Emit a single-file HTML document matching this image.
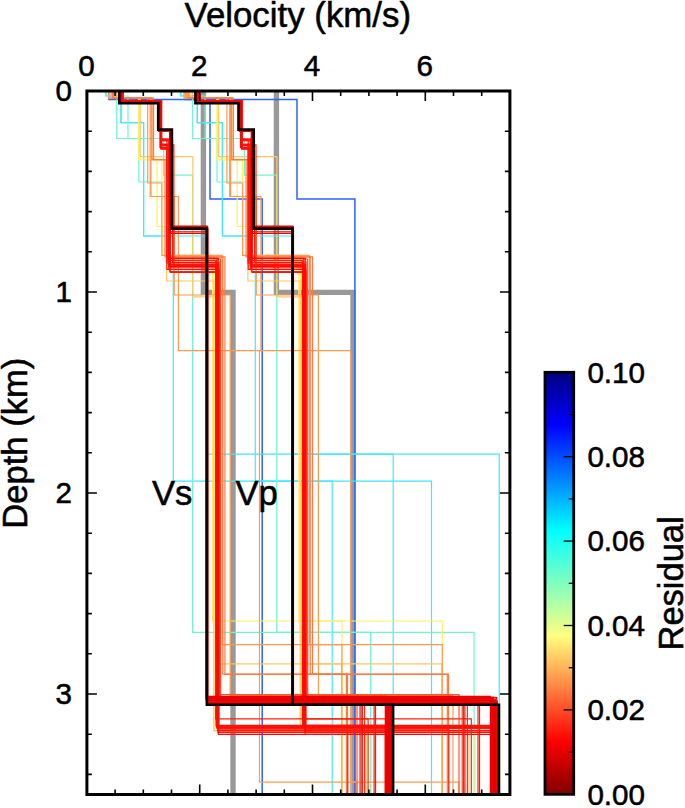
<!DOCTYPE html>
<html><head><meta charset="utf-8"><title>Velocity models</title>
<style>html,body{margin:0;padding:0;background:#fff}svg{display:block}text{font-family:"Liberation Sans",Arial,Helvetica,sans-serif;fill:#000;stroke:#000;stroke-width:0.55px;stroke-linejoin:round}</style>
</head><body>
<svg width="685" height="808" viewBox="0 0 685 808">
<rect width="685" height="808" fill="#fff"/>
<clipPath id="pc"><rect x="86.9" y="91.0" width="423.0" height="703.5"/></clipPath>
<g clip-path="url(#pc)">
<polyline points="203.4,91.0 203.4,292.4 233.0,292.4 233.0,794.5" stroke="#999999" stroke-width="5.4" fill="none" stroke-linejoin="miter"/>
<polyline points="276.4,91.0 276.4,292.4 353.0,292.4 353.0,794.5" stroke="#999999" stroke-width="5.4" fill="none" stroke-linejoin="miter"/>
<polyline points="109.0,91.0 109.0,99.4 210.0,99.4 210.0,199.1 262.2,199.1 262.2,794.5" stroke="#2a62ff" stroke-width="1.5" fill="none" stroke-linejoin="miter" stroke-opacity="1.0"/>
<polyline points="185.0,91.0 185.0,99.4 297.0,99.4 297.0,199.1 354.9,199.1 354.9,794.5" stroke="#2a62ff" stroke-width="1.5" fill="none" stroke-linejoin="miter" stroke-opacity="1.0"/>
<polyline points="121.0,91.0 121.0,122.7 143.6,122.7 143.6,236.0 207.0,236.0 207.0,454.2 393.2,454.2 393.2,794.5" stroke="#40e8ff" stroke-width="1.2" fill="none" stroke-linejoin="miter" stroke-opacity="1.0"/>
<polyline points="197.3,91.0 197.3,122.7 222.4,122.7 222.4,236.0 292.7,236.0 292.7,454.2 499.2,454.2 499.2,794.5" stroke="#40e8ff" stroke-width="1.2" fill="none" stroke-linejoin="miter" stroke-opacity="1.0"/>
<polyline points="105.8,91.0 105.8,95.8 121.0,95.8 121.0,122.7 143.6,122.7 143.6,236.0 173.3,236.0 173.3,481.2 332.2,481.2 332.2,794.5" stroke="#40e8ff" stroke-width="1.2" fill="none" stroke-linejoin="miter" stroke-opacity="1.0"/>
<polyline points="180.4,91.0 180.4,95.8 197.3,95.8 197.3,122.7 222.4,122.7 222.4,236.0 255.3,236.0 255.3,481.2 431.5,481.2 431.5,794.5" stroke="#40e8ff" stroke-width="1.2" fill="none" stroke-linejoin="miter" stroke-opacity="1.0"/>
<polyline points="111.7,91.0 111.7,98.0 116.7,98.0 116.7,138.5 163.5,138.5 163.5,175.2 192.6,175.2 192.6,632.3 370.6,632.3 370.6,794.5" stroke="#70f5d0" stroke-width="1.2" fill="none" stroke-linejoin="miter" stroke-opacity="1.0"/>
<polyline points="187.0,91.0 187.0,98.0 192.5,98.0 192.5,138.5 244.4,138.5 244.4,175.2 276.7,175.2 276.7,632.3 474.1,632.3 474.1,794.5" stroke="#70f5d0" stroke-width="1.2" fill="none" stroke-linejoin="miter" stroke-opacity="1.0"/>
<polyline points="106.5,91.0 106.5,96.0 128.0,96.0 128.0,138.5 138.8,138.5 138.8,182.0 166.2,182.0 166.2,262.0 217.0,262.0 217.0,700.0 386.0,700.0 386.0,794.5" stroke="#70f5d0" stroke-width="1.2" fill="none" stroke-linejoin="miter" stroke-opacity="1.0"/>
<polyline points="181.2,91.0 181.2,96.0 205.1,96.0 205.1,138.5 217.0,138.5 217.0,182.0 247.4,182.0 247.4,262.0 303.8,262.0 303.8,700.0 491.2,700.0 491.2,794.5" stroke="#70f5d0" stroke-width="1.2" fill="none" stroke-linejoin="miter" stroke-opacity="1.0"/>
<polyline points="112.0,91.0 112.0,98.1 138.9,98.1 138.9,159.0 157.0,159.0 157.0,226.5 167.0,226.5 167.0,262.0 212.6,262.0 212.6,621.0 341.9,621.0 341.9,794.5" stroke="#fff060" stroke-width="1.2" fill="none" stroke-linejoin="miter" stroke-opacity="1.0"/>
<polyline points="187.3,91.0 187.3,98.1 217.1,98.1 217.1,159.0 237.2,159.0 237.2,226.5 248.3,226.5 248.3,262.0 298.9,262.0 298.9,621.0 442.3,621.0 442.3,794.5" stroke="#fff060" stroke-width="1.2" fill="none" stroke-linejoin="miter" stroke-opacity="1.0"/>
<polyline points="113.0,91.0 113.0,98.1 138.9,98.1 138.9,160.0 161.9,160.0 161.9,255.3 214.0,255.3 214.0,730.6 371.4,730.6 371.4,794.5" stroke="#fff060" stroke-width="1.2" fill="none" stroke-linejoin="miter" stroke-opacity="1.0"/>
<polyline points="188.4,91.0 188.4,98.1 217.1,98.1 217.1,160.0 242.6,160.0 242.6,255.3 300.4,255.3 300.4,730.6 475.0,730.6 475.0,794.5" stroke="#fff060" stroke-width="1.2" fill="none" stroke-linejoin="miter" stroke-opacity="1.0"/>
<polyline points="109.5,91.0 109.5,98.1 140.2,98.1 140.2,156.6 192.8,156.6 192.8,296.8 216.6,296.8 216.6,663.8 341.5,663.8 341.5,794.5" stroke="#ffc860" stroke-width="1.2" fill="none" stroke-linejoin="miter" stroke-opacity="1.0"/>
<polyline points="184.5,91.0 184.5,98.1 218.6,98.1 218.6,156.6 276.9,156.6 276.9,296.8 303.3,296.8 303.3,663.8 441.8,663.8 441.8,794.5" stroke="#ffc860" stroke-width="1.2" fill="none" stroke-linejoin="miter" stroke-opacity="1.0"/>
<polyline points="114.6,91.0 114.6,98.1 153.5,98.1 153.5,159.7 166.6,159.7 166.6,281.0 213.8,281.0 213.8,730.6 366.0,730.6 366.0,794.5" stroke="#ffc860" stroke-width="1.2" fill="none" stroke-linejoin="miter" stroke-opacity="1.0"/>
<polyline points="190.2,91.0 190.2,98.1 233.3,98.1 233.3,159.7 247.9,159.7 247.9,281.0 300.2,281.0 300.2,730.6 469.0,730.6 469.0,794.5" stroke="#ffc860" stroke-width="1.2" fill="none" stroke-linejoin="miter" stroke-opacity="1.0"/>
<polyline points="111.0,91.0 111.0,98.1 147.7,98.1 147.7,183.0 161.9,183.0 161.9,255.3 222.2,255.3 222.2,644.7 341.9,644.7 341.9,794.5" stroke="#ff9a50" stroke-width="1.2" fill="none" stroke-linejoin="miter" stroke-opacity="1.0"/>
<polyline points="186.2,91.0 186.2,98.1 226.9,98.1 226.9,183.0 242.6,183.0 242.6,255.3 309.5,255.3 309.5,644.7 442.3,644.7 442.3,794.5" stroke="#ff9a50" stroke-width="1.2" fill="none" stroke-linejoin="miter" stroke-opacity="1.0"/>
<polyline points="109.0,91.0 109.0,98.1 151.0,98.1 151.0,196.5 178.4,196.5 178.4,350.7 259.5,350.7 259.5,782.2 357.0,782.2 357.0,794.5" stroke="#ff9a50" stroke-width="1.2" fill="none" stroke-linejoin="miter" stroke-opacity="1.0"/>
<polyline points="184.0,91.0 184.0,98.1 230.6,98.1 230.6,196.5 260.9,196.5 260.9,350.7 350.9,350.7 350.9,782.2 459.0,782.2 459.0,794.5" stroke="#ff9a50" stroke-width="1.2" fill="none" stroke-linejoin="miter" stroke-opacity="1.0"/>
<polyline points="116.4,91.0 116.4,98.1 150.2,98.1 150.2,196.5 174.2,196.5 174.2,295.0 230.2,295.0 230.2,695.4 351.6,695.4 351.6,794.5" stroke="#ff9a50" stroke-width="1.2" fill="none" stroke-linejoin="miter" stroke-opacity="1.0"/>
<polyline points="192.2,91.0 192.2,98.1 229.7,98.1 229.7,196.5 256.3,196.5 256.3,295.0 318.4,295.0 318.4,695.4 453.0,695.4 453.0,794.5" stroke="#ff9a50" stroke-width="1.2" fill="none" stroke-linejoin="miter" stroke-opacity="1.0"/>
<polyline points="112.5,91.0 112.5,98.1 152.0,98.1 152.0,159.7 165.0,159.7 165.0,256.9 222.8,256.9 222.8,674.1 347.5,674.1 347.5,794.5" stroke="#ff7a40" stroke-width="1.2" fill="none" stroke-linejoin="miter" stroke-opacity="1.0"/>
<polyline points="187.9,91.0 187.9,98.1 231.7,98.1 231.7,159.7 246.1,159.7 246.1,256.9 310.2,256.9 310.2,674.1 448.5,674.1 448.5,794.5" stroke="#ff7a40" stroke-width="1.2" fill="none" stroke-linejoin="miter" stroke-opacity="1.0"/>
<polyline points="113.5,91.0 113.5,98.1 153.5,98.1 153.5,159.7 168.0,159.7 168.0,256.9 224.9,256.9 224.9,674.3 346.4,674.3 346.4,794.5" stroke="#ff7a40" stroke-width="1.2" fill="none" stroke-linejoin="miter" stroke-opacity="1.0"/>
<polyline points="189.0,91.0 189.0,98.1 233.3,98.1 233.3,159.7 249.4,159.7 249.4,256.9 312.5,256.9 312.5,674.3 447.3,674.3 447.3,794.5" stroke="#ff7a40" stroke-width="1.2" fill="none" stroke-linejoin="miter" stroke-opacity="1.0"/>
<polyline points="122.5,91.0 122.5,100.5 161.5,100.5 161.5,146.0 168.5,146.0 168.5,262.0 219.8,262.0 219.8,694.7 357.0,694.7 357.0,794.5" stroke="#ff572b" stroke-width="1.2" fill="none" stroke-linejoin="miter" stroke-opacity="1.0"/>
<polyline points="199.0,91.0 199.0,100.5 242.2,100.5 242.2,146.0 250.0,146.0 250.0,262.0 306.9,262.0 306.9,694.7 459.0,694.7 459.0,794.5" stroke="#ff572b" stroke-width="1.2" fill="none" stroke-linejoin="miter" stroke-opacity="1.0"/>
<polyline points="122.0,91.0 122.0,100.8 160.8,100.8 160.8,141.0 169.5,141.0 169.5,259.0 220.6,259.0 220.6,696.9 359.9,696.9 359.9,794.5" stroke="#ff4c26" stroke-width="1.2" fill="none" stroke-linejoin="miter" stroke-opacity="1.0"/>
<polyline points="198.4,91.0 198.4,100.8 241.4,100.8 241.4,141.0 251.1,141.0 251.1,259.0 307.7,259.0 307.7,696.9 462.2,696.9 462.2,794.5" stroke="#ff4c26" stroke-width="1.2" fill="none" stroke-linejoin="miter" stroke-opacity="1.0"/>
<polyline points="122.8,91.0 122.8,100.6 161.2,100.6 161.2,149.0 169.2,149.0 169.2,266.2 218.1,266.2 218.1,699.0 364.6,699.0 364.6,794.5" stroke="#ff2e17" stroke-width="1.2" fill="none" stroke-linejoin="miter" stroke-opacity="1.0"/>
<polyline points="199.3,91.0 199.3,100.6 241.9,100.6 241.9,149.0 250.7,149.0 250.7,266.2 304.9,266.2 304.9,699.0 467.4,699.0 467.4,794.5" stroke="#ff2e17" stroke-width="1.2" fill="none" stroke-linejoin="miter" stroke-opacity="1.0"/>
<polyline points="123.3,91.0 123.3,100.6 160.9,100.6 160.9,148.2 169.8,148.2 169.8,271.5 219.0,271.5 219.0,731.2 386.1,731.2 386.1,794.5" stroke="#ff2613" stroke-width="1.2" fill="none" stroke-linejoin="miter" stroke-opacity="1.0"/>
<polyline points="199.9,91.0 199.9,100.6 241.6,100.6 241.6,148.2 251.4,148.2 251.4,271.5 306.0,271.5 306.0,731.2 491.3,731.2 491.3,794.5" stroke="#ff2613" stroke-width="1.2" fill="none" stroke-linejoin="miter" stroke-opacity="1.0"/>
<polyline points="123.0,91.0 123.0,100.7 161.0,100.7 161.0,144.8 173.9,144.8 173.9,264.8 218.2,264.8 218.2,729.2 347.8,729.2 347.8,794.5" stroke="#ff2412" stroke-width="1.2" fill="none" stroke-linejoin="miter" stroke-opacity="1.0"/>
<polyline points="199.5,91.0 199.5,100.7 241.6,100.7 241.6,144.8 256.0,144.8 256.0,264.8 305.1,264.8 305.1,729.2 448.8,729.2 448.8,794.5" stroke="#ff2412" stroke-width="1.2" fill="none" stroke-linejoin="miter" stroke-opacity="1.0"/>
<polyline points="122.1,91.0 122.1,100.7 160.7,100.7 160.7,139.0 168.8,139.0 168.8,269.3 218.9,269.3 218.9,703.0 361.0,703.0 361.0,794.5" stroke="#ff2211" stroke-width="1.2" fill="none" stroke-linejoin="miter" stroke-opacity="1.0"/>
<polyline points="198.5,91.0 198.5,100.7 241.3,100.7 241.3,139.0 250.3,139.0 250.3,269.3 305.8,269.3 305.8,703.0 463.4,703.0 463.4,794.5" stroke="#ff2211" stroke-width="1.2" fill="none" stroke-linejoin="miter" stroke-opacity="1.0"/>
<polyline points="122.6,91.0 122.6,100.6 160.9,100.6 160.9,147.8 170.4,147.8 170.4,260.5 215.7,260.5 215.7,718.8 368.1,718.8 368.1,794.5" stroke="#ff1f0f" stroke-width="1.2" fill="none" stroke-linejoin="miter" stroke-opacity="1.0"/>
<polyline points="199.1,91.0 199.1,100.6 241.6,100.6 241.6,147.8 252.1,147.8 252.1,260.5 302.3,260.5 302.3,718.8 471.3,718.8 471.3,794.5" stroke="#ff1f0f" stroke-width="1.2" fill="none" stroke-linejoin="miter" stroke-opacity="1.0"/>
<polyline points="123.2,91.0 123.2,100.9 161.7,100.9 161.7,149.0 168.0,149.0 168.0,260.5 216.4,260.5 216.4,700.5 374.1,700.5 374.1,794.5" stroke="#ff1e0f" stroke-width="1.2" fill="none" stroke-linejoin="miter" stroke-opacity="1.0"/>
<polyline points="199.7,91.0 199.7,100.9 242.4,100.9 242.4,149.0 249.4,149.0 249.4,260.5 303.1,260.5 303.1,700.5 478.0,700.5 478.0,794.5" stroke="#ff1e0f" stroke-width="1.2" fill="none" stroke-linejoin="miter" stroke-opacity="1.0"/>
<polyline points="122.6,91.0 122.6,100.7 160.6,100.7 160.6,140.0 168.8,140.0 168.8,265.3 216.4,265.3 216.4,726.4 385.8,726.4 385.8,794.5" stroke="#ff1c0e" stroke-width="1.2" fill="none" stroke-linejoin="miter" stroke-opacity="1.0"/>
<polyline points="199.1,91.0 199.1,100.7 241.2,100.7 241.2,140.0 250.3,140.0 250.3,265.3 303.1,265.3 303.1,726.4 491.0,726.4 491.0,794.5" stroke="#ff1c0e" stroke-width="1.2" fill="none" stroke-linejoin="miter" stroke-opacity="1.0"/>
<polyline points="122.8,91.0 122.8,101.0 160.5,101.0 160.5,140.4 172.6,140.4 172.6,262.5 217.0,262.5 217.0,727.8 389.0,727.8 389.0,794.5" stroke="#ff1a0d" stroke-width="1.2" fill="none" stroke-linejoin="miter" stroke-opacity="1.0"/>
<polyline points="199.3,91.0 199.3,101.0 241.1,101.0 241.1,140.4 254.5,140.4 254.5,262.5 303.8,262.5 303.8,727.8 494.5,727.8 494.5,794.5" stroke="#ff1a0d" stroke-width="1.2" fill="none" stroke-linejoin="miter" stroke-opacity="1.0"/>
<polyline points="122.1,91.0 122.1,101.4 160.6,101.4 160.6,140.0 170.3,140.0 170.3,258.3 217.0,258.3 217.0,702.0 375.5,702.0 375.5,794.5" stroke="#ff190d" stroke-width="1.2" fill="none" stroke-linejoin="miter" stroke-opacity="1.0"/>
<polyline points="198.5,91.0 198.5,101.4 241.2,101.4 241.2,140.0 251.9,140.0 251.9,258.3 303.8,258.3 303.8,702.0 479.5,702.0 479.5,794.5" stroke="#ff190d" stroke-width="1.2" fill="none" stroke-linejoin="miter" stroke-opacity="1.0"/>
<polyline points="121.8,91.0 121.8,101.4 160.9,101.4 160.9,144.6 169.1,144.6 169.1,266.2 217.2,266.2 217.2,728.4 385.6,728.4 385.6,794.5" stroke="#ff190d" stroke-width="1.2" fill="none" stroke-linejoin="miter" stroke-opacity="1.0"/>
<polyline points="198.1,91.0 198.1,101.4 241.6,101.4 241.6,144.6 250.6,144.6 250.6,266.2 303.9,266.2 303.9,728.4 490.7,728.4 490.7,794.5" stroke="#ff190d" stroke-width="1.2" fill="none" stroke-linejoin="miter" stroke-opacity="1.0"/>
<polyline points="122.5,91.0 122.5,100.7 160.5,100.7 160.5,144.2 170.3,144.2 170.3,264.4 218.6,264.4 218.6,726.9 385.9,726.9 385.9,794.5" stroke="#ff160b" stroke-width="1.2" fill="none" stroke-linejoin="miter" stroke-opacity="1.0"/>
<polyline points="199.0,91.0 199.0,100.7 241.1,100.7 241.1,144.2 252.0,144.2 252.0,264.4 305.6,264.4 305.6,726.9 491.1,726.9 491.1,794.5" stroke="#ff160b" stroke-width="1.2" fill="none" stroke-linejoin="miter" stroke-opacity="1.0"/>
<polyline points="122.6,91.0 122.6,101.4 160.7,101.4 160.7,139.0 170.3,139.0 170.3,272.4 217.5,272.4 217.5,730.3 386.0,730.3 386.0,794.5" stroke="#ff140a" stroke-width="1.2" fill="none" stroke-linejoin="miter" stroke-opacity="1.0"/>
<polyline points="199.0,91.0 199.0,101.4 241.4,101.4 241.4,139.0 252.0,139.0 252.0,272.4 304.3,272.4 304.3,730.3 491.2,730.3 491.2,794.5" stroke="#ff140a" stroke-width="1.2" fill="none" stroke-linejoin="miter" stroke-opacity="1.0"/>
<polyline points="122.0,91.0 122.0,100.7 161.4,100.7 161.4,139.6 166.9,139.6 166.9,269.3 217.9,269.3 217.9,732.5 385.5,732.5 385.5,794.5" stroke="#ff1109" stroke-width="1.2" fill="none" stroke-linejoin="miter" stroke-opacity="1.0"/>
<polyline points="198.5,91.0 198.5,100.7 242.0,100.7 242.0,139.6 248.2,139.6 248.2,269.3 304.8,269.3 304.8,732.5 490.6,732.5 490.6,794.5" stroke="#ff1109" stroke-width="1.2" fill="none" stroke-linejoin="miter" stroke-opacity="1.0"/>
<polyline points="122.6,91.0 122.6,100.6 161.0,100.6 161.0,145.2 166.8,145.2 166.8,263.0 216.1,263.0 216.1,725.4 385.4,725.4 385.4,794.5" stroke="#ff0e07" stroke-width="1.2" fill="none" stroke-linejoin="miter" stroke-opacity="1.0"/>
<polyline points="199.1,91.0 199.1,100.6 241.6,100.6 241.6,145.2 248.1,145.2 248.1,263.0 302.7,263.0 302.7,725.4 490.5,725.4 490.5,794.5" stroke="#ff0e07" stroke-width="1.2" fill="none" stroke-linejoin="miter" stroke-opacity="1.0"/>
<polyline points="122.6,91.0 122.6,101.3 160.0,101.3 160.0,147.3 168.9,147.3 168.9,267.2 216.8,267.2 216.8,727.4 386.2,727.4 386.2,794.5" stroke="#ff0d06" stroke-width="1.2" fill="none" stroke-linejoin="miter" stroke-opacity="1.0"/>
<polyline points="199.1,91.0 199.1,101.3 240.5,101.3 240.5,147.3 250.4,147.3 250.4,267.2 303.5,267.2 303.5,727.4 491.4,727.4 491.4,794.5" stroke="#ff0d06" stroke-width="1.2" fill="none" stroke-linejoin="miter" stroke-opacity="1.0"/>
<polyline points="122.5,91.0 122.5,100.9 160.7,100.9 160.7,149.0 169.0,149.0 169.0,258.3 218.3,258.3 218.3,734.4 386.3,734.4 386.3,794.5" stroke="#ff0804" stroke-width="1.2" fill="none" stroke-linejoin="miter" stroke-opacity="1.0"/>
<polyline points="198.9,91.0 198.9,100.9 241.3,100.9 241.3,149.0 250.6,149.0 250.6,258.3 305.2,258.3 305.2,734.4 491.5,734.4 491.5,794.5" stroke="#ff0804" stroke-width="1.2" fill="none" stroke-linejoin="miter" stroke-opacity="1.0"/>
<polyline points="122.2,91.0 122.2,100.9 160.8,100.9 160.8,145.2 169.8,145.2 169.8,266.2 217.3,266.2 217.3,697.0 362.3,697.0 362.3,794.5" stroke="#ff0804" stroke-width="1.2" fill="none" stroke-linejoin="miter" stroke-opacity="1.0"/>
<polyline points="198.6,91.0 198.6,100.9 241.4,100.9 241.4,145.2 251.4,145.2 251.4,266.2 304.0,266.2 304.0,697.0 464.9,697.0 464.9,794.5" stroke="#ff0804" stroke-width="1.2" fill="none" stroke-linejoin="miter" stroke-opacity="1.0"/>
<polyline points="121.3,91.0 121.3,102.0 159.0,102.0 159.0,131.5 171.0,131.5 171.0,226.9 207.6,226.9 207.6,697.7 391.0,697.7 391.0,794.5" stroke="#fb0000" stroke-width="1.2" fill="none" stroke-linejoin="miter" stroke-opacity="1.0"/>
<polyline points="197.7,91.0 197.7,102.0 239.4,102.0 239.4,131.5 252.8,131.5 252.8,226.9 293.3,226.9 293.3,697.7 496.7,697.7 496.7,794.5" stroke="#fb0000" stroke-width="1.2" fill="none" stroke-linejoin="miter" stroke-opacity="1.0"/>
<polyline points="120.7,91.0 120.7,102.2 160.2,102.2 160.2,131.4 171.1,131.4 171.1,228.8 207.5,228.8 207.5,703.1 386.4,703.1 386.4,794.5" stroke="#f90000" stroke-width="1.2" fill="none" stroke-linejoin="miter" stroke-opacity="1.0"/>
<polyline points="197.0,91.0 197.0,102.2 240.7,102.2 240.7,131.4 252.8,131.4 252.8,228.8 293.2,228.8 293.2,703.1 491.7,703.1 491.7,794.5" stroke="#f90000" stroke-width="1.2" fill="none" stroke-linejoin="miter" stroke-opacity="1.0"/>
<polyline points="120.6,91.0 120.6,101.9 158.9,101.9 158.9,131.0 171.4,131.0 171.4,229.3 207.6,229.3 207.6,701.8 387.6,701.8 387.6,794.5" stroke="#f80000" stroke-width="1.2" fill="none" stroke-linejoin="miter" stroke-opacity="1.0"/>
<polyline points="196.9,91.0 196.9,101.9 239.4,101.9 239.4,131.0 253.1,131.0 253.1,229.3 293.3,229.3 293.3,701.8 492.9,701.8 492.9,794.5" stroke="#f80000" stroke-width="1.2" fill="none" stroke-linejoin="miter" stroke-opacity="1.0"/>
<polyline points="120.9,91.0 120.9,101.6 160.0,101.6 160.0,130.5 169.8,130.5 169.8,229.0 207.7,229.0 207.7,701.1 391.6,701.1 391.6,794.5" stroke="#f20000" stroke-width="1.2" fill="none" stroke-linejoin="miter" stroke-opacity="1.0"/>
<polyline points="197.2,91.0 197.2,101.6 240.5,101.6 240.5,130.5 251.4,130.5 251.4,229.0 293.5,229.0 293.5,701.1 497.4,701.1 497.4,794.5" stroke="#f20000" stroke-width="1.2" fill="none" stroke-linejoin="miter" stroke-opacity="1.0"/>
<polyline points="120.4,91.0 120.4,101.8 159.4,101.8 159.4,131.0 171.3,131.0 171.3,226.6 207.2,226.6 207.2,697.1 388.2,697.1 388.2,794.5" stroke="#f20000" stroke-width="1.2" fill="none" stroke-linejoin="miter" stroke-opacity="1.0"/>
<polyline points="196.6,91.0 196.6,101.8 239.9,101.8 239.9,131.0 253.1,131.0 253.1,226.6 292.9,226.6 292.9,697.1 493.6,697.1 493.6,794.5" stroke="#f20000" stroke-width="1.2" fill="none" stroke-linejoin="miter" stroke-opacity="1.0"/>
<polyline points="120.4,91.0 120.4,102.3 159.7,102.3 159.7,130.5 170.2,130.5 170.2,228.0 206.6,228.0 206.6,699.8 385.9,699.8 385.9,794.5" stroke="#ed0000" stroke-width="1.2" fill="none" stroke-linejoin="miter" stroke-opacity="1.0"/>
<polyline points="196.7,91.0 196.7,102.3 240.2,102.3 240.2,130.5 251.9,130.5 251.9,228.0 292.2,228.0 292.2,699.8 491.0,699.8 491.0,794.5" stroke="#ed0000" stroke-width="1.2" fill="none" stroke-linejoin="miter" stroke-opacity="1.0"/>
<polyline points="120.6,91.0 120.6,101.7 159.0,101.7 159.0,130.3 170.0,130.3 170.0,233.5 206.2,233.5 206.2,699.1 389.9,699.1 389.9,794.5" stroke="#ed0000" stroke-width="1.2" fill="none" stroke-linejoin="miter" stroke-opacity="1.0"/>
<polyline points="196.9,91.0 196.9,101.7 239.4,101.7 239.4,130.3 251.7,130.3 251.7,233.5 291.8,233.5 291.8,699.1 495.5,699.1 495.5,794.5" stroke="#ed0000" stroke-width="1.2" fill="none" stroke-linejoin="miter" stroke-opacity="1.0"/>
<polyline points="120.8,91.0 120.8,101.7 159.1,101.7 159.1,131.3 170.7,131.3 170.7,228.2 207.4,228.2 207.4,702.5 390.5,702.5 390.5,794.5" stroke="#eb0000" stroke-width="1.2" fill="none" stroke-linejoin="miter" stroke-opacity="1.0"/>
<polyline points="197.1,91.0 197.1,101.7 239.6,101.7 239.6,131.3 252.4,131.3 252.4,228.2 293.1,228.2 293.1,702.5 496.1,702.5 496.1,794.5" stroke="#eb0000" stroke-width="1.2" fill="none" stroke-linejoin="miter" stroke-opacity="1.0"/>
<polyline points="120.6,91.0 120.6,101.5 159.2,101.5 159.2,130.6 170.6,130.6 170.6,226.2 207.1,226.2 207.1,696.4 385.3,696.4 385.3,794.5" stroke="#e90000" stroke-width="1.2" fill="none" stroke-linejoin="miter" stroke-opacity="1.0"/>
<polyline points="196.9,91.0 196.9,101.5 239.7,101.5 239.7,130.6 252.3,130.6 252.3,226.2 292.7,226.2 292.7,696.4 490.4,696.4 490.4,794.5" stroke="#e90000" stroke-width="1.2" fill="none" stroke-linejoin="miter" stroke-opacity="1.0"/>
<polyline points="120.7,91.0 120.7,101.9 159.4,101.9 159.4,130.3 169.8,130.3 169.8,227.6 206.5,227.6 206.5,703.8 389.3,703.8 389.3,794.5" stroke="#e90000" stroke-width="1.2" fill="none" stroke-linejoin="miter" stroke-opacity="1.0"/>
<polyline points="197.0,91.0 197.0,101.9 239.8,101.9 239.8,130.3 251.5,130.3 251.5,227.6 292.1,227.6 292.1,703.8 494.8,703.8 494.8,794.5" stroke="#e90000" stroke-width="1.2" fill="none" stroke-linejoin="miter" stroke-opacity="1.0"/>
<polyline points="121.0,91.0 121.0,101.7 159.0,101.7 159.0,131.1 169.9,131.1 169.9,231.8 206.1,231.8 206.1,698.4 387.0,698.4 387.0,794.5" stroke="#e70000" stroke-width="1.2" fill="none" stroke-linejoin="miter" stroke-opacity="1.0"/>
<polyline points="197.3,91.0 197.3,101.7 239.5,101.7 239.5,131.1 251.5,131.1 251.5,231.8 291.7,231.8 291.7,698.4 492.3,698.4 492.3,794.5" stroke="#e70000" stroke-width="1.2" fill="none" stroke-linejoin="miter" stroke-opacity="1.0"/>
<polyline points="120.6,91.0 120.6,102.2 160.2,102.2 160.2,130.9 170.6,130.9 170.6,228.5 206.2,228.5 206.2,700.4 388.7,700.4 388.7,794.5" stroke="#e40000" stroke-width="1.2" fill="none" stroke-linejoin="miter" stroke-opacity="1.0"/>
<polyline points="196.8,91.0 196.8,102.2 240.8,102.2 240.8,130.9 252.3,130.9 252.3,228.5 291.7,228.5 291.7,700.4 494.2,700.4 494.2,794.5" stroke="#e40000" stroke-width="1.2" fill="none" stroke-linejoin="miter" stroke-opacity="1.0"/>
<polyline points="119.3,91.0 119.3,103.3 158.2,103.3 158.2,129.6 171.9,129.6 171.9,228.6 206.9,228.6 206.9,704.8 393.1,704.8 393.1,794.5" stroke="#000000" stroke-width="2.6" fill="none" stroke-linejoin="miter" stroke-opacity="1.0"/>
<polyline points="195.4,91.0 195.4,103.3 238.5,103.3 238.5,129.6 253.7,129.6 253.7,228.6 292.6,228.6 292.6,704.8 499.0,704.8 499.0,794.5" stroke="#000000" stroke-width="2.6" fill="none" stroke-linejoin="miter" stroke-opacity="1.0"/>
</g>
<rect x="86.9" y="91.0" width="423.0" height="703.5" fill="none" stroke="#000" stroke-width="3.0"/>
<path d="M115.1 91.0v5 M115.1 794.5v-5" stroke="#000" stroke-width="1.6"/>
<path d="M143.3 91.0v5 M143.3 794.5v-5" stroke="#000" stroke-width="1.6"/>
<path d="M171.5 91.0v5 M171.5 794.5v-5" stroke="#000" stroke-width="1.6"/>
<path d="M199.7 91.0v10 M199.7 794.5v-10" stroke="#000" stroke-width="1.6"/>
<path d="M227.9 91.0v5 M227.9 794.5v-5" stroke="#000" stroke-width="1.6"/>
<path d="M256.1 91.0v5 M256.1 794.5v-5" stroke="#000" stroke-width="1.6"/>
<path d="M284.3 91.0v5 M284.3 794.5v-5" stroke="#000" stroke-width="1.6"/>
<path d="M312.5 91.0v10 M312.5 794.5v-10" stroke="#000" stroke-width="1.6"/>
<path d="M340.7 91.0v5 M340.7 794.5v-5" stroke="#000" stroke-width="1.6"/>
<path d="M368.9 91.0v5 M368.9 794.5v-5" stroke="#000" stroke-width="1.6"/>
<path d="M397.1 91.0v5 M397.1 794.5v-5" stroke="#000" stroke-width="1.6"/>
<path d="M425.3 91.0v10 M425.3 794.5v-10" stroke="#000" stroke-width="1.6"/>
<path d="M453.5 91.0v5 M453.5 794.5v-5" stroke="#000" stroke-width="1.6"/>
<path d="M481.7 91.0v5 M481.7 794.5v-5" stroke="#000" stroke-width="1.6"/>
<path d="M86.9 131.2h5 M509.9 131.2h-5" stroke="#000" stroke-width="1.6"/>
<path d="M86.9 171.4h5 M509.9 171.4h-5" stroke="#000" stroke-width="1.6"/>
<path d="M86.9 211.6h5 M509.9 211.6h-5" stroke="#000" stroke-width="1.6"/>
<path d="M86.9 251.8h5 M509.9 251.8h-5" stroke="#000" stroke-width="1.6"/>
<path d="M86.9 292.0h10 M509.9 292.0h-10" stroke="#000" stroke-width="1.6"/>
<path d="M86.9 332.2h5 M509.9 332.2h-5" stroke="#000" stroke-width="1.6"/>
<path d="M86.9 372.4h5 M509.9 372.4h-5" stroke="#000" stroke-width="1.6"/>
<path d="M86.9 412.6h5 M509.9 412.6h-5" stroke="#000" stroke-width="1.6"/>
<path d="M86.9 452.8h5 M509.9 452.8h-5" stroke="#000" stroke-width="1.6"/>
<path d="M86.9 493.0h10 M509.9 493.0h-10" stroke="#000" stroke-width="1.6"/>
<path d="M86.9 533.2h5 M509.9 533.2h-5" stroke="#000" stroke-width="1.6"/>
<path d="M86.9 573.4h5 M509.9 573.4h-5" stroke="#000" stroke-width="1.6"/>
<path d="M86.9 613.6h5 M509.9 613.6h-5" stroke="#000" stroke-width="1.6"/>
<path d="M86.9 653.8h5 M509.9 653.8h-5" stroke="#000" stroke-width="1.6"/>
<path d="M86.9 694.0h10 M509.9 694.0h-10" stroke="#000" stroke-width="1.6"/>
<path d="M86.9 734.2h5 M509.9 734.2h-5" stroke="#000" stroke-width="1.6"/>
<path d="M86.9 774.4h5 M509.9 774.4h-5" stroke="#000" stroke-width="1.6"/>
<defs><linearGradient id="cb" x1="0" y1="0" x2="0" y2="1"><stop offset="0.0000" stop-color="#00007f"/><stop offset="0.0250" stop-color="#000099"/><stop offset="0.0500" stop-color="#0000b2"/><stop offset="0.0750" stop-color="#0000cc"/><stop offset="0.1000" stop-color="#0000e5"/><stop offset="0.1250" stop-color="#0000ff"/><stop offset="0.1500" stop-color="#001aff"/><stop offset="0.1750" stop-color="#0033ff"/><stop offset="0.2000" stop-color="#004cff"/><stop offset="0.2250" stop-color="#0066ff"/><stop offset="0.2500" stop-color="#007fff"/><stop offset="0.2750" stop-color="#0099ff"/><stop offset="0.3000" stop-color="#00b3ff"/><stop offset="0.3250" stop-color="#00ccff"/><stop offset="0.3500" stop-color="#00e5ff"/><stop offset="0.3750" stop-color="#00ffff"/><stop offset="0.4000" stop-color="#1afff2"/><stop offset="0.4250" stop-color="#33ffe5"/><stop offset="0.4500" stop-color="#4cffd9"/><stop offset="0.4750" stop-color="#66ffcc"/><stop offset="0.5000" stop-color="#80ffbf"/><stop offset="0.5250" stop-color="#99ffb2"/><stop offset="0.5500" stop-color="#b3ffa5"/><stop offset="0.5750" stop-color="#ccff99"/><stop offset="0.6000" stop-color="#e5ff8c"/><stop offset="0.6250" stop-color="#ffff7f"/><stop offset="0.6500" stop-color="#ffe572"/><stop offset="0.6750" stop-color="#ffcc66"/><stop offset="0.7000" stop-color="#ffb359"/><stop offset="0.7250" stop-color="#ff994c"/><stop offset="0.7500" stop-color="#ff8040"/><stop offset="0.7750" stop-color="#ff6633"/><stop offset="0.8000" stop-color="#ff4c26"/><stop offset="0.8250" stop-color="#ff3319"/><stop offset="0.8500" stop-color="#ff1a0d"/><stop offset="0.8750" stop-color="#ff0000"/><stop offset="0.9000" stop-color="#e50000"/><stop offset="0.9250" stop-color="#cc0000"/><stop offset="0.9500" stop-color="#b20000"/><stop offset="0.9750" stop-color="#990000"/><stop offset="1.0000" stop-color="#7f0000"/></linearGradient></defs>
<rect x="545.0" y="372.3" width="28.7" height="422.0" fill="url(#cb)" stroke="#000" stroke-width="2.8"/>
<path d="M573.7 752.1h-5" stroke="#000" stroke-width="1.3"/>
<path d="M573.7 709.9h-10" stroke="#000" stroke-width="1.3"/>
<path d="M573.7 667.7h-5" stroke="#000" stroke-width="1.3"/>
<path d="M573.7 625.5h-10" stroke="#000" stroke-width="1.3"/>
<path d="M573.7 583.3h-5" stroke="#000" stroke-width="1.3"/>
<path d="M573.7 541.1h-10" stroke="#000" stroke-width="1.3"/>
<path d="M573.7 498.9h-5" stroke="#000" stroke-width="1.3"/>
<path d="M573.7 456.7h-10" stroke="#000" stroke-width="1.3"/>
<path d="M573.7 414.5h-5" stroke="#000" stroke-width="1.3"/>
<text x="86.4" y="76.3" font-size="29.6" text-anchor="middle">0</text>
<text x="199.2" y="76.3" font-size="29.6" text-anchor="middle">2</text>
<text x="312.0" y="76.3" font-size="29.6" text-anchor="middle">4</text>
<text x="424.8" y="76.3" font-size="29.6" text-anchor="middle">6</text>
<text x="72" y="101.3" font-size="29.6" text-anchor="end">0</text>
<text x="72" y="302.3" font-size="29.6" text-anchor="end">1</text>
<text x="72" y="503.3" font-size="29.6" text-anchor="end">2</text>
<text x="72" y="704.3" font-size="29.6" text-anchor="end">3</text>
<text x="297.8" y="26.5" font-size="34.85" text-anchor="middle">Velocity (km/s)</text>
<text transform="translate(27.2,443.2) rotate(-90)" font-size="34.6" text-anchor="middle">Depth (km)</text>
<text x="152" y="505.4" font-size="34.6">Vs</text>
<text x="235.5" y="505.4" font-size="34.6">Vp</text>
<text x="587.4" y="804.6" font-size="29.6">0.00</text>
<text x="587.4" y="720.2" font-size="29.6">0.02</text>
<text x="587.4" y="635.8" font-size="29.6">0.04</text>
<text x="587.4" y="551.4" font-size="29.6">0.06</text>
<text x="587.4" y="467.0" font-size="29.6">0.08</text>
<text x="587.4" y="382.6" font-size="29.6">0.10</text>
<text transform="translate(682.5,583.4) rotate(-90)" font-size="34.5" text-anchor="middle">Residual</text>
</svg>
</body></html>
